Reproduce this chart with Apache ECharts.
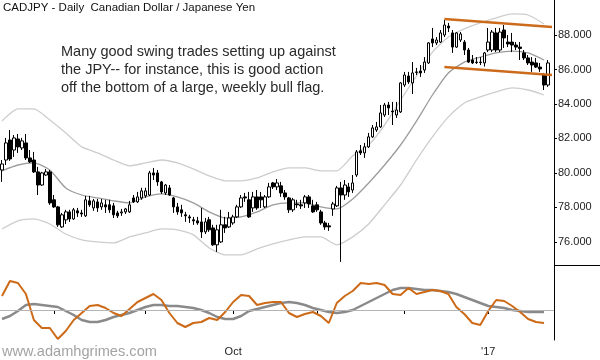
<!DOCTYPE html>
<html><head><meta charset="utf-8">
<script src="https://cdn.jsdelivr.net/npm/echarts@6/dist/echarts.min.js"></script>
<style>html,body{margin:0;padding:0;background:#fff}#c{width:600px;height:360px}</style>
</head><body><div id="c"></div>
<script>
// ---- data ----
const startDate = '2016-07-13';
const holidays = ['2016-12-26', '2017-01-02'];
const barCount = 139; // last slot left empty

// [open, close, low, high]
const candles = [
[80.17,80.52,79.48,80.75],[80.75,81.74,80.46,82.03],[81.91,80.81,80.70,82.49],[81.33,82.03,80.93,82.20],
[81.97,81.51,81.16,82.26],[81.45,81.86,81.33,82.03],[81.74,80.87,80.75,82.26],[80.87,80.64,80.58,81.33],
[80.75,80.06,80.00,81.22],[80.06,79.30,78.72,80.35],[79.30,80.00,79.25,80.06],[79.88,80.06,79.83,80.23],
[80.06,78.26,78.15,80.17],[78.44,78.03,77.97,78.72],[78.03,76.99,76.87,78.09],[76.87,77.57,76.81,77.68],
[77.28,77.74,77.04,77.86],[77.74,77.33,77.16,77.86],[77.33,77.86,77.28,77.97],[77.80,77.68,77.45,77.97],
[77.68,77.62,77.45,77.86],[77.51,78.44,77.45,78.67],[78.38,78.15,78.03,78.67],[77.97,78.38,77.80,78.49],
[78.32,77.97,77.74,78.49],[78.03,78.26,77.86,78.49],[78.15,78.03,77.68,78.44],[78.15,77.86,77.68,78.44],
[78.09,77.57,77.39,78.26],[77.68,77.51,77.39,77.80],[77.68,77.74,77.51,77.91],[77.74,77.91,77.62,77.97],
[77.74,78.15,77.68,78.38],[78.55,78.32,78.26,78.72],[78.32,78.61,78.26,78.90],[78.55,78.96,78.44,79.14],
[78.67,78.96,78.55,79.14],[78.72,80.00,78.67,80.12],[80.00,79.88,79.59,80.29],[80.00,79.48,79.25,80.17],
[79.48,78.90,78.78,79.54],[78.84,79.30,78.72,79.36],[79.13,78.72,78.67,79.30],[78.55,78.03,77.68,78.61],
[78.03,77.74,77.57,78.26],[77.86,77.68,77.45,78.15],[77.57,77.51,77.16,77.74],[77.45,77.39,77.10,77.57],
[77.28,77.22,76.99,77.45],[77.22,77.10,76.99,77.45],[77.16,76.58,76.23,77.97],[76.58,77.16,76.46,77.39],
[77.28,76.70,76.58,77.45],[76.81,75.83,75.77,76.99],[75.83,76.70,75.42,76.99],[76.00,76.99,75.94,77.86],
[76.99,76.81,76.52,77.45],[76.87,77.39,76.81,77.74],[77.10,77.45,76.99,77.57],[77.45,78.03,77.39,78.15],
[78.03,78.55,77.97,78.72],[78.61,78.55,78.32,78.84],[78.44,77.45,77.39,78.90],[77.97,78.61,77.74,78.90],
[78.61,77.97,77.86,79.01],[78.61,78.44,77.97,78.90],[78.03,78.61,77.97,78.72],[78.61,79.19,78.55,79.42],
[79.42,79.19,79.07,79.48],[79.19,79.42,79.01,79.65],[79.25,78.84,78.61,79.48],[78.84,78.61,78.44,79.01],
[78.55,77.86,77.68,78.61],[77.86,78.44,77.74,78.55],[78.20,78.15,77.97,78.44],[78.15,78.09,77.91,78.44],
[78.26,78.61,77.97,78.72],[78.61,78.20,77.97,78.72],[78.09,77.74,77.68,78.44],[78.15,77.86,77.74,78.32],
[77.74,77.10,76.99,77.86],[77.10,76.87,76.70,77.22],[76.93,76.87,76.64,77.10],[77.91,78.20,77.51,78.32],
[78.09,79.13,78.03,79.25],[79.13,78.72,74.84,79.48],[78.72,79.30,78.44,79.59],[79.19,78.90,78.61,79.42],
[79.01,79.42,78.84,79.88],[79.88,81.22,79.77,81.33],[81.28,81.16,81.04,81.62],[81.16,81.51,80.87,81.74],
[81.51,82.09,81.45,82.32],[82.09,82.61,82.03,82.78],[82.49,82.67,82.38,82.96],[82.67,83.48,82.61,83.94],
[83.36,83.94,83.25,84.06],[83.94,83.77,83.36,84.12],[83.59,83.54,82.78,84.12],[83.36,83.65,83.19,84.12],
[83.54,85.22,83.48,85.27],[85.10,85.68,84.99,85.86],[85.62,85.28,85.16,85.86],[85.22,85.80,84.58,86.43],
[85.86,85.83,85.68,86.09],[85.91,85.80,85.57,86.26],[85.97,86.43,85.80,86.72],[86.38,87.54,86.32,87.59],
[87.77,87.54,87.30,88.41],[87.54,87.71,87.42,87.88],[87.59,88.12,87.54,88.29],[88.00,88.58,87.88,88.87],
[88.52,88.41,88.17,88.70],[88.12,87.30,86.96,88.29],[87.30,88.12,87.25,88.17],[87.71,88.06,87.59,88.17],
[87.59,87.13,86.84,87.71],[87.13,86.43,86.38,87.25],[86.55,86.38,86.32,86.84],[86.43,86.40,86.32,86.72],
[86.43,86.40,86.26,86.72],[86.38,86.96,86.17,87.01],[87.13,87.59,87.01,88.41],[87.13,88.17,87.01,88.29],
[88.12,87.13,87.01,88.41],[87.13,88.17,87.01,88.41],[88.29,87.83,87.25,88.58],[87.59,87.48,87.30,88.00],
[87.59,87.42,87.01,88.12],[87.42,87.30,87.13,87.59],[87.30,87.22,86.55,87.59],[86.96,86.67,86.55,87.13],
[86.67,86.38,86.26,86.84],[86.43,86.26,85.86,86.72],[86.38,86.14,86.09,86.67],[86.14,86.03,85.86,86.38],
[85.68,85.10,84.81,85.80],[85.10,86.38,84.99,86.55]
];

// channel lines, read every 4th bar
const bandStep = 4;
const bandUpper = [83.01,83.71,83.71,83.07,82.32,81.51,81.16,80.75,80.41,80.58,80.75,80.58,80.23,79.83,79.54,79.54,79.71,80.06,80.29,80.29,80.12,80.12,80.99,81.62,82.78,84.23,85.62,87.01,87.88,88.35,88.70,88.99,89.22,89.16,88.64];
const bandMid = [80.12,80.46,80.58,80.17,79.13,78.72,78.55,78.38,78.26,78.61,78.78,78.61,78.26,77.74,77.39,77.45,77.74,78.15,78.26,78.26,78.03,77.91,78.49,79.42,80.46,81.62,83.01,84.52,85.80,86.43,86.72,86.96,87.07,86.96,86.55];
const bandLower = [76.75,77.22,77.33,77.04,76.46,76.12,76.00,75.94,76.29,76.52,76.75,76.70,76.41,75.65,75.25,75.25,75.59,75.88,76.12,76.29,76.29,75.83,76.29,77.04,78.15,79.30,80.75,82.09,83.25,84.06,84.41,84.70,84.93,84.81,84.52];

// oscillator lines, read every 2nd bar
const oscStep = 2;
const oscFast = [14,29,27,16,-10,-18,-18,-29,-21,-10,-3,4,5,2,-3,-6,1,8,12,16,10,-3,-13,-17,-13,-12,-8,-10,-2,8,15,14,5,7,8,8,-3,-7,-4,-2,-6,-13,7,14,19,27,26,27,25,16,15,22,16,18,20,19,16,3,-4,-13,-15,-1,10,9,4,-2,-9,-12,-13];
const oscSlow = [-9,-6,-1,5,6,5,4,3,-1,-5,-10,-12,-12,-10,-7,-5,-3,0,3,5,5,4,4,3,2,0,-3,-7,-9,-9,-6,-1,1,3,5,7,8,7,5,2,0,-2,-3,-2,0,4,8,12,16,20,22,22,21,20,20,19,18,16,13,10,7,4,3,2,0,-1,-2,-2,-2];

const priceTicks = [76,78,80,82,84,86,88];
const flagTop = [[111, 88.93], [138, 88.46]];
const flagBottom = [[111, 86.14], [138, 85.68]];

// ---- build ----
function pad(n){return n<10?'0'+n:''+n;}
function tradingDays(){
  const out=[]; const d=new Date(startDate+'T12:00:00Z');
  while(out.length<barCount){
    const s=d.getUTCFullYear()+'-'+pad(d.getUTCMonth()+1)+'-'+pad(d.getUTCDate());
    const wd=d.getUTCDay();
    if(wd!==0&&wd!==6&&holidays.indexOf(s)<0) out.push(s);
    d.setUTCDate(d.getUTCDate()+1);
  }
  return out;
}
const categories = tradingDays();
function spread(arr, step){
  const out=new Array(categories.length).fill(null);
  arr.forEach((v,k)=>{out[k*step]=v;});
  return out;
}
function isMonthStart(i){ return i>0 && categories[i].slice(5,7)!==categories[i-1].slice(5,7); }
function isLabelled(i){ return isMonthStart(i) && (categories[i].slice(5,7)==='10' || categories[i].slice(5,7)==='01'); }

const FONT='Liberation Sans';
const chart = echarts.init(document.getElementById('c'), null, {renderer:'canvas'});
const bandLine = (name, arr, color) => ({
  name, type:'line', xAxisIndex:0, yAxisIndex:0, data:spread(arr,bandStep), connectNulls:true,
  symbol:'none', smooth:0.2, lineStyle:{color, width:1.3}, silent:true, z:1
});
chart.setOption({
  animation:false,
  backgroundColor:'#fff',
  title:{text:'CADJPY - Daily  Canadian Dollar / Japanese Yen', left:3, top:2, padding:0,
    textStyle:{fontFamily:FONT, fontSize:11.5, fontWeight:'normal', color:'#111'}},
  grid:[{left:0,right:46,top:0,height:265},{left:0,right:46,top:265,height:75}],
  xAxis:[
    {type:'category', data:categories, gridIndex:0, boundaryGap:true, show:false},
    {type:'category', data:categories, gridIndex:1, boundaryGap:true,
      axisLine:{show:true, lineStyle:{color:'#000', width:1}},
      axisTick:{show:true, alignWithLabel:true, interval:(i)=>isMonthStart(i), length:4, lineStyle:{color:'#000'}},
      axisLabel:{interval:(i)=>isLabelled(i), margin:6, fontFamily:FONT, fontSize:11, color:'#222',
        formatter:(v)=> v.slice(5,7)==='10' ? 'Oct' : "'" + v.slice(2,4)},
      splitLine:{show:false}}
  ],
  yAxis:[
    {type:'value', gridIndex:0, position:'right', min:74.66, max:90.03, scale:true,
      axisLine:{show:true, lineStyle:{color:'#000'}},
      axisTick:{show:true, length:3, customValues:priceTicks, lineStyle:{color:'#000'}},
      axisLabel:{customValues:priceTicks, margin:4, fontFamily:FONT, fontSize:11, color:'#222', formatter:(v)=>v.toFixed(3)},
      splitLine:{show:false}},
    {type:'value', gridIndex:1, position:'right', min:-30, max:45,
      axisLine:{show:true, lineStyle:{color:'#000'}}, axisTick:{show:false}, axisLabel:{show:false}, splitLine:{show:false}}
  ],
  graphic:[
    {type:'line', shape:{x1:554, y1:265.5, x2:600, y2:265.5}, style:{stroke:'#000', lineWidth:1}},
    {type:'text', left:61, top:43, style:{text:'Many good swing trades setting up against\nthe JPY-- for instance, this is good action\noff the bottom of a large, weekly bull flag.',
      font:'14.5px "Liberation Sans"', fill:'#2a2a2a', lineHeight:18}},
    {type:'text', left:2, top:344, style:{text:'www.adamhgrimes.com', font:'14.6px "Liberation Sans"', fill:'#a3a3a3'}}
  ],
  series:[
    bandLine('upper', bandUpper, '#cdcdcd'),
    bandLine('lower', bandLower, '#cdcdcd'),
    bandLine('mid', bandMid, '#9c9c9c'),
    {name:'CADJPY', type:'candlestick', xAxisIndex:0, yAxisIndex:0, data:candles, barWidth:3,
      itemStyle:{color:'#fff', color0:'#000', borderColor:'#000', borderColor0:'#000', borderWidth:1}, z:3},
    {name:'flagTop', type:'line', xAxisIndex:0, yAxisIndex:0, data:flagTop, symbol:'none',
      lineStyle:{color:'#cc6b1c', width:2.5}, z:5, silent:true},
    {name:'flagBottom', type:'line', xAxisIndex:0, yAxisIndex:0, data:flagBottom, symbol:'none',
      lineStyle:{color:'#cc6b1c', width:2.5}, z:5, silent:true},
    {name:'slow', type:'line', xAxisIndex:1, yAxisIndex:1, data:spread(oscSlow,oscStep), connectNulls:true,
      symbol:'none', lineStyle:{color:'#8a8a8a', width:2.5}, z:2, silent:true,
      markLine:{silent:true, symbol:['none','none'], label:{show:false}, data:[{yAxis:0}],
        lineStyle:{color:'#b4b4b4', width:1, type:'solid'}}},
    {name:'fast', type:'line', xAxisIndex:1, yAxisIndex:1, data:spread(oscFast,oscStep), connectNulls:true,
      symbol:'none', lineStyle:{color:'#cd6a17', width:2}, z:3, silent:true}
  ]
});
</script>
</body></html>
